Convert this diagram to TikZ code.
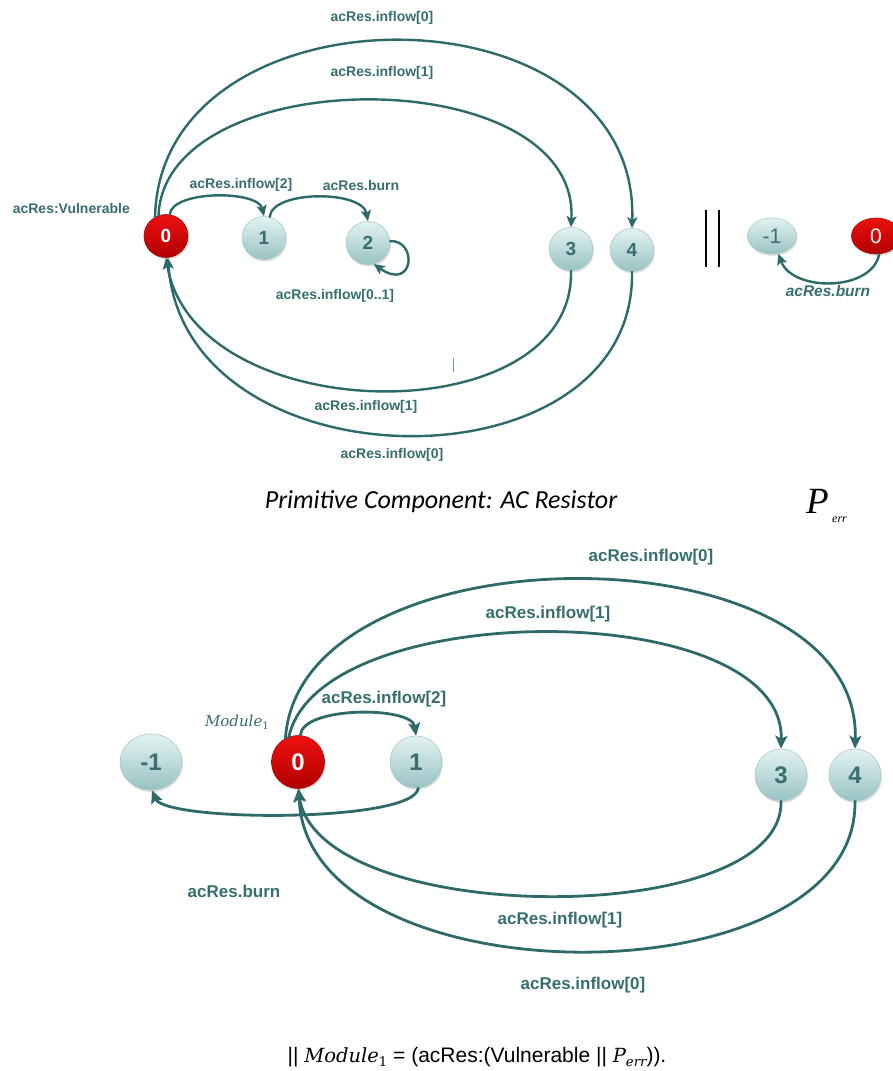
\documentclass[tikz,border=0pt]{standalone}
\usepackage{fontspec}
\setmainfont{Liberation Sans}
\newfontfamily\capfont{Carlito}
\newfontfamily\timesfont{Liberation Serif}
\newfontfamily\idfont{DejaVu Serif}
\usetikzlibrary{arrows.meta,shapes.geometric,shadows}
\definecolor{edgeteal}{HTML}{2E6A6A}
\definecolor{labteal}{HTML}{376E6E}
\definecolor{ballTop}{HTML}{E3F3F3}
\definecolor{ballBot}{HTML}{98C2C2}
\definecolor{ballRim}{HTML}{A9C9C9}
\definecolor{errTop}{HTML}{EE1010}
\definecolor{errBot}{HTML}{B00000}
% italic identifiers with a lowered subscript, set in a serif face
\newcommand{\ident}[2]{{\idfont\itshape #1}\raisebox{-0.22em}{\idfont\fontsize{0.68em}{0.68em}\selectfont #2}}
\begin{document}
\begin{tikzpicture}[x=1pt,y=-1pt,
  lbl/.style={text=labteal, font=\bfseries\fontsize{14}{14}\selectfont, inner sep=0pt},
  lblbig/.style={text=labteal, font=\bfseries\fontsize{17}{17}\selectfont, inner sep=0pt},
  trans/.style={draw=edgeteal, line width=2.4pt, line cap=round,
    -{Stealth[length=11pt,width=10pt,inset=2.5pt]}},
  transbig/.style={trans, line width=2.8pt,
    -{Stealth[length=13pt,width=12pt,inset=3pt]}},
  ball/.style={ellipse, inner sep=0pt, top color=ballTop, bottom color=ballBot,
    draw=ballRim, line width=0.6pt, text=labteal,
    drop shadow={opacity=0.25, shadow xshift=1pt, shadow yshift=-2pt}},
  errball/.style={ball, top color=errTop, bottom color=errBot, draw=errBot, text=white},
  small/.style={minimum width=44pt, minimum height=43pt, font=\bfseries\fontsize{19}{19}\selectfont},
  flat/.style={minimum width=49pt, minimum height=36pt, font=\fontsize{21}{21}\selectfont},
  large/.style={minimum width=53pt, minimum height=53pt, font=\bfseries\fontsize{24}{24}\selectfont}
]
\useasboundingbox (0,0) rectangle (893,1071);

% ---------------- primitive component: AC resistor ----------------
\node[errball, small] (a0) at (166,236) {0};
\node[ball, small]    (a1) at (264,238) {1};
\node[ball, small]    (a2) at (368,243) {2};
\node[ball, small]    (a3) at (571,249) {3};
\node[ball, small]    (a4) at (632,250) {4};

\node[lbl, anchor=east] (vuln) at (130,208) {acRes:Vulnerable};

\draw[trans] (a0.120) .. controls (160,-20) and (640,-20) .. (a4.north);
\draw[trans] (a0.110) .. controls (165,60) and (580,60) .. (a3.north);
\draw[trans] (a0.80) .. controls (172,190) and (258,190) .. (a1.north);
\draw[trans] (a1.75) .. controls (272,190) and (362,190) .. (a2.north);
\draw[trans] (a2.5) .. controls (418,240) and (414,292) .. (a2.-75);
\draw[trans] (a3.south) .. controls (575,435) and (195,430) .. (a0.south);
\draw[trans] (a4.south) .. controls (636,494) and (185,490) .. (a0.-85);

\node[lbl] (l0a) at (382,18)  {acRes.inflow[0]};
\node[lbl] (l1a) at (382,73)  {acRes.inflow[1]};
\node[lbl] (l2a) at (241,185) {acRes.inflow[2]};
\node[lbl] (lba) at (361,185) {acRes.burn};
\node[lbl] (lla) at (335,296) {acRes.inflow[0..1]};
\node[lbl] (l1b) at (366,407) {acRes.inflow[1]};
\node[lbl] (l0b) at (392,455) {acRes.inflow[0]};

% stray tick
\draw[edgeteal!70, line width=0.6pt] (453,358) -- (453,372);

% parallel composition bars
\draw[line width=2.6pt] (706,210) -- (706,267);
\draw[line width=2.6pt] (719,210) -- (719,267);

% error process
\node[ball, flat]    (em1) at (772,236) {-1};
\node[errball, flat] (e0)  at (876,236) {0};
\draw[trans] (e0.-80) .. controls (872,292) and (792,292) .. (em1.-70);
\node[lbl, font=\bfseries\itshape\fontsize{15.5}{15.5}\selectfont] (lbe) at (828,291) {acRes.burn};

% captions
\node[inner sep=0pt, font=\capfont\itshape\fontsize{26}{26}\selectfont] (cap) at (441,502) {Primitive Component: AC Resistor};
\node[inner sep=0pt, anchor=base west, font=\timesfont\itshape\fontsize{37}{37}\selectfont] (perr) at (806,513) {P};
\node[inner sep=0pt, anchor=base west, font=\timesfont\itshape\fontsize{12}{12}\selectfont] (perrsub) at (832,522) {err};

% ---------------- module 1 ----------------
\node[ball, large, minimum width=62pt, minimum height=56pt] (bm1) at (151,762) {-1};
\node[errball, large] (b0) at (298,762) {0};
\node[ball, large, minimum width=52pt, minimum height=52pt] (b1) at (416,762) {1};
\node[ball, large, minimum width=52pt, minimum height=52pt] (b3) at (781,775) {3};
\node[ball, large, minimum width=52pt, minimum height=52pt] (b4) at (855,775) {4};

\node[text=labteal, inner sep=0pt, font=\fontsize{15}{15}\selectfont] (mod) at (237,722) {\ident{Module}{1}};

\draw[transbig] (b0.118) .. controls (300,525) and (862,525) .. (b4.north);
\draw[transbig] (b0.110) .. controls (320,596) and (785,596) .. (b3.north);
\draw[transbig] (b0.85) .. controls (302,706) and (412,706) .. (b1.north);
\draw[transbig] (b1.-85) .. controls (414,823) and (165,822) .. (bm1.-88);
\draw[transbig] (b3.south) .. controls (784,930) and (320,928) .. (b0.south);
\draw[transbig] (b4.south) .. controls (858,1004) and (305,1002) .. (b0.-88);

\node[lblbig] (m0a) at (651,557) {acRes.inflow[0]};
\node[lblbig] (m1a) at (548,614) {acRes.inflow[1]};
\node[lblbig] (m2a) at (384,699) {acRes.inflow[2]};
\node[lblbig] (mba) at (234,891) {acRes.burn};
\node[lblbig] (m1b) at (560,920) {acRes.inflow[1]};
\node[lblbig] (m0b) at (583,985) {acRes.inflow[0]};

\node[inner sep=0pt, font=\fontsize{21}{21}\selectfont] (formula) at (477,1057)
  {|| {\fontsize{19.5}{20}\selectfont\ident{Module}{1}} = (acRes:(Vulnerable || {\fontsize{19.5}{20}\selectfont\ident{P}{\itshape err}})).};
\end{tikzpicture}
\end{document}
